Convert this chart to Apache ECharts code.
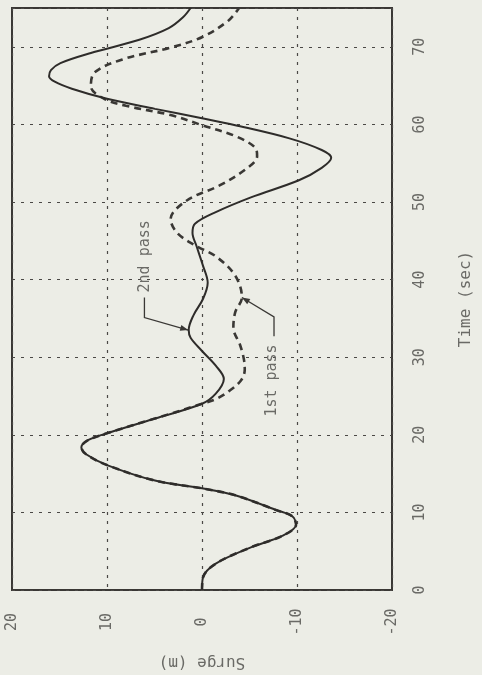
<!DOCTYPE html>
<html><head><meta charset="utf-8">
<script src="https://cdn.jsdelivr.net/npm/echarts@6/dist/echarts.min.js"></script>
<style>html,body{margin:0;padding:0;background:#ecede6;}#c{width:482px;height:675px;}</style>
</head><body><div id="c"></div>
<script>
// Time (sec) and surge (m) for the 2nd pass (solid)
var time2 = [0,1.6,3.4,5.5,7.0,8.4,9.5,10.3,12.2,13.1,14.1,16.1,17.5,18.4,19.3,20.2,22.1,24.0,25.3,27.2,28.9,30.8,32.5,33.5,35.4,37.5,39.6,41.8,44.3,46.0,47.2,48.7,50.6,52.8,54.4,55.7,56.7,58.2,59.9,60.8,62.0,63.3,64.6,65.5,66.2,67.0,67.9,69.2,70.9,72.4,73.8,75];
var surge2 = [0,-0.1,-1.45,-5.15,-8.5,-9.9,-9.5,-7.8,-3.5,0,4.95,10,12.2,12.7,12.0,10,4.95,0,-1.45,-2.3,-1.45,0,1.2,1.4,0.9,-0.1,-0.6,-0.1,0.57,1.0,0.74,-1.45,-5.15,-10.2,-12.6,-13.6,-12.6,-9.2,-3.5,0,4.95,10,13.7,15.5,16.1,15.9,14.9,11.7,6.6,3.5,2.0,1.2];
// 1st pass (dashed)
var time1 = [0,1.6,3.4,5.5,7.0,8.4,9.5,10.3,12.2,13.1,14.1,16.1,17.5,18.4,19.3,20.2,22.1,24.0,24.6,25.6,27.0,28.4,29.8,31.6,33.8,35.8,37.7,40.5,43.0,44.3,46.0,47.8,50.2,52.1,54.4,55.9,57.0,58.5,59.9,61.2,62.4,63.3,64.9,66.7,68.4,69.9,71.3,73.4,75];
var surge1 = [0,-0.1,-1.45,-5.15,-8.5,-9.9,-9.5,-7.8,-3.5,0,4.95,10,12.2,12.7,12.0,10,4.95,0,-1.45,-2.8,-4.1,-4.5,-4.4,-4.0,-3.3,-3.5,-4.2,-3.5,-1.45,0.57,2.6,3.3,1.6,-1.8,-4.8,-5.8,-5.6,-3.5,0,3.3,8.0,10.3,11.7,11.3,8.3,3.3,-0.1,-2.8,-3.9];
var surgeTicks = [-20,-10,0,10,20];
var timeTicks = [0,10,20,30,40,50,60,70];
// annotations in data coords [surge, time]
var label2 = {text:'2nd pass', at:[5.96,43.0], leader:[[6.06,37.7],[6.06,35.1],[1.45,33.5]]};
var label1 = {text:'1st pass', at:[-7.37,27.0], leader:[[-7.58,32.7],[-7.58,35.2],[-4.2,37.7]]};

function pairs(s,t){return s.map(function(v,i){return [v,t[i]];});}
var FONT = 'DejaVu Sans Mono';
var TXT = '#6a6a66';
var chart = echarts.init(document.getElementById('c'));
chart.setOption({
  backgroundColor:'#ecede6',
  animation:false,
  grid:{left:12,right:75,top:8,bottom:75,show:true,borderColor:'#3a3835',borderWidth:2,backgroundColor:'transparent'},
  xAxis:{type:'value',min:-20,max:20,interval:10,inverse:true,
    name:'Surge (m)',nameLocation:'middle',nameGap:64,nameRotate:180,
    nameTextStyle:{fontFamily:FONT,fontSize:16,color:TXT},
    axisLine:{show:false},axisTick:{show:false},
    axisLabel:{rotate:90,margin:32,align:'center',verticalAlign:'middle',fontFamily:FONT,fontSize:15,color:TXT,
      formatter:function(v){return surgeTicks.indexOf(v)>=0?String(v):'';}},
    splitLine:{show:true,lineStyle:{color:'#4a4845',width:1.2,type:[3,6]}}},
  yAxis:{type:'value',min:0,max:75,interval:10,position:'right',
    name:'Time (sec)',nameLocation:'middle',nameGap:66,nameRotate:90,
    nameTextStyle:{fontFamily:FONT,fontSize:16,color:TXT},
    axisLine:{show:false},axisTick:{show:false},
    axisLabel:{rotate:90,margin:28,align:'center',verticalAlign:'middle',fontFamily:FONT,fontSize:15,color:TXT,
      formatter:function(v){return timeTicks.indexOf(v)>=0?String(v):'';}},
    splitLine:{show:true,lineStyle:{color:'#4a4845',width:1.2,type:[3,6]}}},
  series:[
    {type:'line',data:pairs(surge1,time1),smooth:0.35,showSymbol:false,
      lineStyle:{color:'#3a3835',width:2.6,type:[7,5]},z:2},
    {type:'line',data:pairs(surge2,time2),smooth:0.35,showSymbol:false,
      lineStyle:{color:'#2e2c2a',width:2},z:3}
  ]
});

function annot(a){
  var els=[];
  var c=chart.convertToPixel({gridIndex:0},a.at);
  els.push({type:'text',x:c[0],y:c[1],rotation:Math.PI/2,
    style:{text:a.text,font:'15px "'+FONT+'"',fill:TXT,align:'center',verticalAlign:'middle'}});
  var pts=a.leader.map(function(p){return chart.convertToPixel({gridIndex:0},p);});
  els.push({type:'polyline',shape:{points:pts},style:{stroke:'#3a3835',lineWidth:1.3,fill:null}});
  var e=pts[pts.length-1],b=pts[pts.length-2];
  var dx=e[0]-b[0],dy=e[1]-b[1],L=Math.sqrt(dx*dx+dy*dy);dx/=L;dy/=L;
  var hl=8,hw=3;
  els.push({type:'polygon',shape:{points:[[e[0],e[1]],[e[0]-dx*hl-dy*hw,e[1]-dy*hl+dx*hw],[e[0]-dx*hl+dy*hw,e[1]-dy*hl-dx*hw]]},
    style:{fill:'#3a3835'}});
  return els;
}
chart.setOption({graphic:annot(label2).concat(annot(label1))});
</script></body></html>
